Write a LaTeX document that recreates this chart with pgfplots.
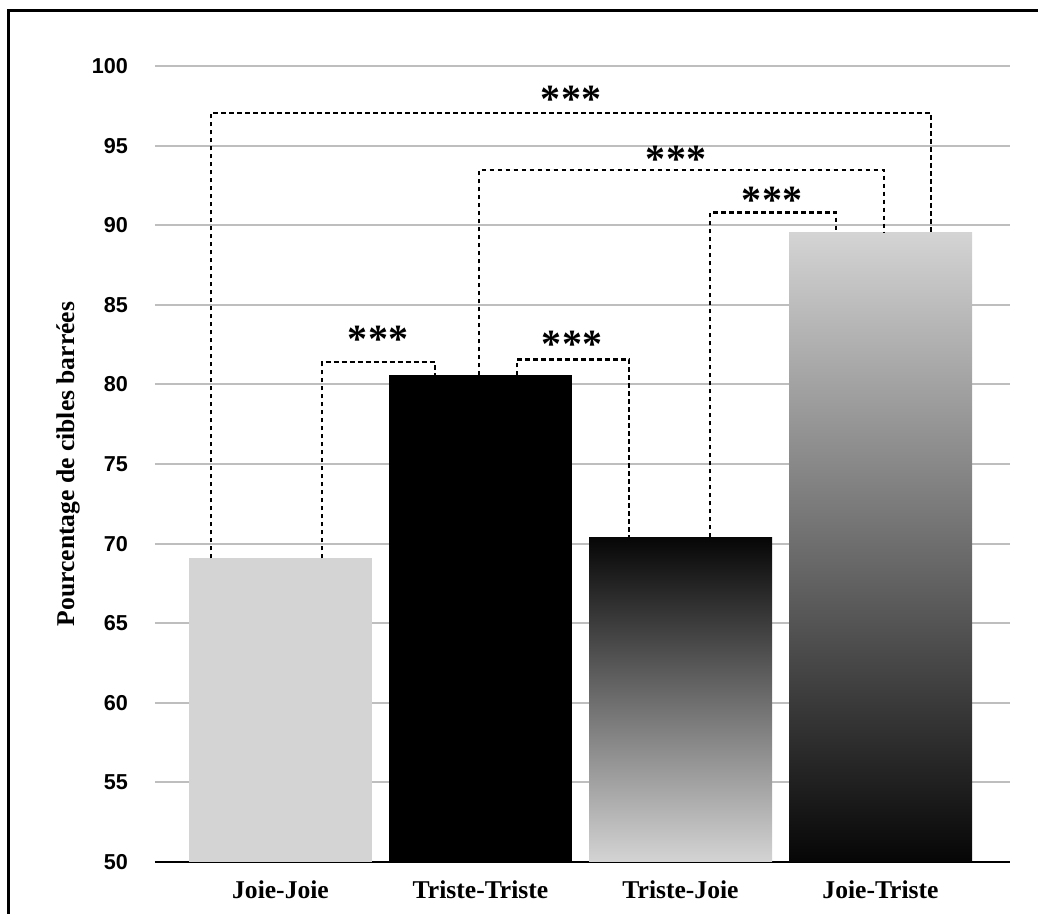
\documentclass[border=0pt]{standalone}
\usepackage{fontspec}
\setmainfont{Liberation Serif}
\setsansfont{Liberation Sans}
\usepackage{pgfplots}
\pgfplotsset{compat=1.18}
\definecolor{lightbar}{RGB}{212,212,212}
\definecolor{darkbar}{RGB}{6,6,6}
\definecolor{gridgray}{RGB}{190,190,190}
\newcommand{\stars}{*\hspace{0.3pt}*\hspace{0.3pt}*}
\begin{document}
\begin{tikzpicture}
\path[use as bounding box] (-77.5pt,-26pt) rectangle (441.5pt,431pt);
\begin{axis}[
  at={(0,0)}, anchor=south west,
  scale only axis,
  width=427.5pt, height=398pt,
  xmin=-0.6275, xmax=3.6475,
  ymin=50, ymax=100,
  ytick={50,55,...,100},
  xtick={0,1,2,3},
  xticklabels={Joie-Joie,Triste-Triste,Triste-Joie,Joie-Triste},
  major tick length=0pt,
  axis x line=bottom, axis y line=left,
  x axis line style={-, line width=1pt, black},
  y axis line style={draw=none},
  ymajorgrids,
  grid style={gridgray, line width=1pt},
  /pgf/number format/assume math mode=true,
  yticklabel style={font=\sffamily\bfseries\fontsize{10.8}{12}\selectfont, anchor=east, xshift=-10pt},
  xticklabel style={font=\bfseries\fontsize{12.8}{14}\selectfont, yshift=-6pt},
  ylabel={Pourcentage de cibles barrées},
  ylabel style={font=\bfseries\fontsize{12.8}{14}\selectfont, at={(axis description cs:-0.1018,0.5)}, anchor=center},
]
% bars
\addplot[draw=none, fill=lightbar] coordinates {(-0.4575,50) (-0.4575,69.07) (0.4575,69.07) (0.4575,50)} -- cycle;
\addplot[draw=none, fill=black] coordinates {(0.5425,50) (0.5425,80.57) (1.4575,80.57) (1.4575,50)} -- cycle;
\addplot[draw=none, top color=darkbar, bottom color=lightbar] coordinates {(1.5425,50) (1.5425,70.39) (2.4575,70.39) (2.4575,50)} -- cycle;
\addplot[draw=none, top color=lightbar, bottom color=darkbar] coordinates {(2.5425,50) (2.5425,89.53) (3.4575,89.53) (3.4575,50)} -- cycle;
% brackets
\pgfplotsset{brk/.style={black, line width=1.1pt, dash pattern=on 2.4pt off 1.6pt, mark=none}}
\addplot[brk] coordinates {(-0.3475,69.07) (-0.3475,97.07) (3.2525,97.07) (3.2525,89.53)};
\addplot[brk] coordinates {(0.9925,80.57) (0.9925,93.47) (3.0175,93.47) (3.0175,89.53)};
\addplot[brk] coordinates {(2.1475,70.39) (2.1475,90.8) (2.7775,90.8) (2.7775,89.53)};
\addplot[brk] coordinates {(0.2075,69.07) (0.2075,81.4) (0.771,81.4) (0.771,80.57)};
\addplot[brk] coordinates {(1.1825,80.57) (1.1825,81.57) (1.744,81.57) (1.744,70.39)};
% stars
\tikzset{stars/.style={font=\bfseries\fontsize{20}{22}\selectfont, anchor=center, yshift=-2pt, inner sep=0pt}}
\node[stars] at (axis cs:1.4525,98.18) {\stars};
\node[stars] at (axis cs:1.9775,94.41) {\stars};
\node[stars] at (axis cs:2.4575,91.83) {\stars};
\node[stars] at (axis cs:0.4875,83.10) {\stars};
\node[stars] at (axis cs:1.4575,82.79) {\stars};
\end{axis}
\draw[line width=1.35pt] (-73.15pt,-27pt) -- (-73.15pt,425.65pt) -- (442pt,425.65pt);
\end{tikzpicture}
\end{document}
